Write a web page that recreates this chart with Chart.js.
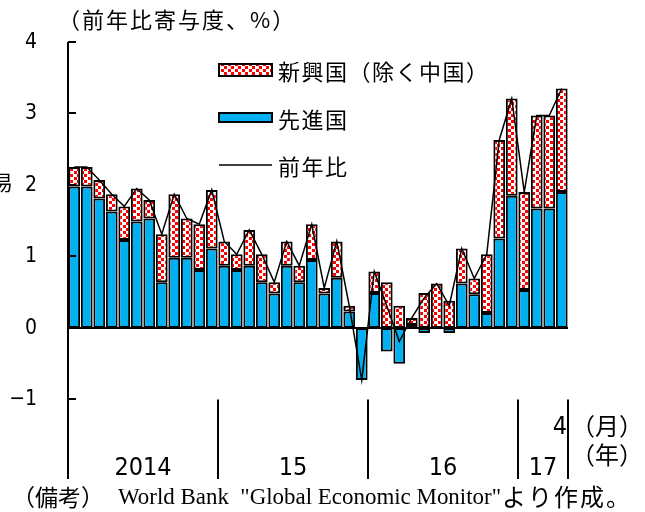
<!DOCTYPE html>
<html>
<head>
<meta charset="utf-8">
<script src="https://cdn.jsdelivr.net/npm/chart.js@4/dist/chart.umd.min.js"></script>
<style>
  html, body { margin: 0; padding: 0; background: #fff; }
  #wrap { width: 645px; height: 512px; position: relative; }
</style>
</head>
<body>
<div id="wrap"><canvas id="c" width="645" height="512"></canvas></div>
<script>
// Monthly categories, Jan 2014 - Apr 2017
const months = [
  '2014/1','2014/2','2014/3','2014/4','2014/5','2014/6','2014/7','2014/8','2014/9','2014/10','2014/11','2014/12',
  '2015/1','2015/2','2015/3','2015/4','2015/5','2015/6','2015/7','2015/8','2015/9','2015/10','2015/11','2015/12',
  '2016/1','2016/2','2016/3','2016/4','2016/5','2016/6','2016/7','2016/8','2016/9','2016/10','2016/11','2016/12',
  '2017/1','2017/2','2017/3','2017/4'
];

// 先進国 contribution (pt)
const advanced = [
  1.98, 1.98, 1.81, 1.63, 1.23, 1.49, 1.53, 0.64, 0.98, 0.98, 0.81, 1.11,
  0.87, 0.81, 0.87, 0.64, 0.48, 0.87, 0.64, 0.95, 0.48, 0.70, 0.23, -0.73,
  0.49, -0.33, -0.50, 0.04, -0.07, 0.00, -0.07, 0.62, 0.47, 0.21, 1.25, 1.85,
  0.53, 1.67, 1.67, 1.90
];

// 新興国（除く中国） contribution (pt)
const emerging = [
  0.27, 0.27, 0.26, 0.24, 0.47, 0.46, 0.26, 0.67, 0.89, 0.55, 0.64, 0.82,
  0.34, 0.22, 0.50, 0.39, 0.16, 0.34, 0.23, 0.50, 0.08, 0.51, 0.08, 0.00,
  0.30, 0.64, 0.31, 0.10, 0.49, 0.62, 0.38, 0.49, 0.22, 0.82, 1.38, 1.36,
  1.37, 1.30, 1.30, 1.45
];

// 前年比 (%)
const yoy = [
  2.25, 2.25, 2.07, 1.87, 1.70, 1.95, 1.79, 1.31, 1.87, 1.53, 1.45, 1.93,
  1.21, 1.03, 1.37, 1.03, 0.64, 1.21, 0.87, 1.45, 0.56, 1.21, 0.31, -0.73,
  0.79, 0.31, -0.19, 0.14, 0.42, 0.62, 0.31, 1.11, 0.69, 1.03, 2.63, 3.21,
  1.90, 2.97, 2.97, 3.35
];

const yTicks = [-1, 0, 1, 2, 3, 4];
const yearLabels = ['2014', '15', '16', '17'];
const yearStartIdx = [0, 12, 24, 36];
const lastMonthLabel = '4';

const BLUE = '#00b0f0';
const RED = '#ff0000';
const JP = '"Noto Sans CJK JP", "Noto Sans", sans-serif';
const NUM = '"Liberation Sans Narrow", "DejaVu Sans Condensed", "Liberation Sans", sans-serif';
const SERIF = '"Liberation Serif", "DejaVu Serif", serif';

// red-dot fill for the emerging-economy bars
function makeDots() {
  const t = document.createElement('canvas');
  t.width = 7; t.height = 6;
  const g = t.getContext('2d');
  g.fillStyle = '#ffffff';
  g.fillRect(0, 0, 7, 6);
  g.fillStyle = RED;
  g.fillRect(0, 0, 3, 3);
  g.fillRect(4, 3, 3, 3);
  return g.createPattern(t, 'repeat');
}
const dots = makeDots();

function spaced(ctx, px) {
  if ('letterSpacing' in ctx) ctx.letterSpacing = px + 'px';
}

const decor = {
  id: 'decor',
  beforeDatasetsDraw(chart) {
    const { ctx, chartArea: a, scales: { y } } = chart;
    ctx.save();
    ctx.strokeStyle = '#000';
    ctx.lineWidth = 2;
    ctx.beginPath();
    ctx.moveTo(a.left, Math.round(y.getPixelForValue(0)));
    ctx.lineTo(a.right, Math.round(y.getPixelForValue(0)));
    ctx.stroke();
    ctx.restore();
  },
  afterDraw(chart) {
    const { ctx, chartArea: a, scales: { x, y } } = chart;
    const bottom = a.bottom + 1;
    const yMinus1 = y.getPixelForValue(-1);
    ctx.save();
    ctx.strokeStyle = '#000';
    ctx.fillStyle = '#000';

    // value axis
    ctx.lineWidth = 2;
    ctx.beginPath();
    ctx.moveTo(a.left, y.getPixelForValue(4));
    ctx.lineTo(a.left, bottom);
    ctx.stroke();
    ctx.font = '21px ' + NUM;
    ctx.textAlign = 'right';
    ctx.textBaseline = 'middle';
    yTicks.forEach(v => {
      const py = Math.round(y.getPixelForValue(v));
      ctx.beginPath();
      ctx.moveTo(a.left, py);
      ctx.lineTo(a.left + 8, py);
      ctx.stroke();
      ctx.fillText(v < 0 ? '\u2212' + Math.abs(v) : String(v), 37, py + 1);
    });

    // year separators
    const step = x.getPixelForValue(1) - x.getPixelForValue(0);
    const edges = yearStartIdx.slice(1).map(i => x.getPixelForValue(i) - step / 2);
    edges.push(x.getPixelForValue(months.length - 1) + step / 2);
    edges.forEach(px => {
      ctx.beginPath();
      ctx.moveTo(Math.round(px), yMinus1);
      ctx.lineTo(Math.round(px), bottom);
      ctx.stroke();
    });

    // year labels centred in each year span
    ctx.font = '25px ' + NUM;
    ctx.textAlign = 'center';
    ctx.textBaseline = 'middle';
    yearStartIdx.forEach((s, k) => {
      const e = k + 1 < yearStartIdx.length ? yearStartIdx[k + 1] - 1 : months.length - 1;
      const cx = (x.getPixelForValue(s) + x.getPixelForValue(e)) / 2;
      ctx.fillText(yearLabels[k], cx, 468);
    });

    // final month marker
    ctx.textAlign = 'right';
    ctx.fillText(lastMonthLabel, edges[edges.length - 1] - 1, 427);

    // unit captions
    ctx.font = '24px ' + JP;
    ctx.textAlign = 'center';
    ctx.fillText('（月）', 607, 426);
    ctx.fillText('（年）', 607, 455);

    // title
    ctx.font = '22px ' + JP;
    ctx.textAlign = 'left';
    spaced(ctx, 2);
    ctx.fillText('（前年比寄与度、%）', 58, 20);

    // clipped side label
    spaced(ctx, 0);
    ctx.font = '21px ' + JP;
    ctx.textAlign = 'right';
    ctx.fillText('易', 13, 182);

    // legend
    const lx = 219, lw = 53;
    ctx.lineWidth = 2;
    ctx.fillStyle = dots;
    ctx.fillRect(lx, 64, lw, 12);
    ctx.strokeRect(lx, 64, lw, 12);
    ctx.fillStyle = BLUE;
    ctx.fillRect(lx, 113, lw, 9);
    ctx.strokeRect(lx, 113, lw, 9);
    ctx.lineWidth = 1.5;
    ctx.beginPath();
    ctx.moveTo(lx, 165);
    ctx.lineTo(lx + lw, 165);
    ctx.stroke();
    ctx.fillStyle = '#000';
    ctx.font = '22px ' + JP;
    ctx.textAlign = 'left';
    spaced(ctx, 1.5);
    ctx.fillText('新興国（除く中国）', 278, 72);
    ctx.fillText('先進国', 278, 120);
    ctx.fillText('前年比', 278, 167);

    // source note
    spaced(ctx, 0);
    ctx.font = '23px ' + JP;
    ctx.fillText('（備考）', 12, 497);
    ctx.font = '23px ' + SERIF;
    ctx.fillText('World Bank  "Global Economic Monitor"', 118, 498, 383);
    ctx.font = '24px ' + JP;
    spaced(ctx, 2);
    ctx.fillText('より作成。', 502, 497);
    ctx.restore();
  }
};

new Chart(document.getElementById('c'), {
  data: {
    labels: months,
    datasets: [
      {
        type: 'line',
        label: '前年比',
        data: yoy,
        stack: 'yoy',
        borderColor: '#000',
        borderWidth: 1.5,
        pointRadius: 0,
        tension: 0,
        fill: false,
        order: 0
      },
      {
        type: 'bar',
        label: '先進国',
        data: advanced,
        stack: 'contrib',
        backgroundColor: BLUE,
        borderColor: '#000',
        borderWidth: 2,
        borderSkipped: false,
        barPercentage: 0.94,
        categoryPercentage: 1.0,
        order: 1
      },
      {
        type: 'bar',
        label: '新興国（除く中国）',
        data: emerging,
        stack: 'contrib',
        backgroundColor: dots,
        borderColor: '#000',
        borderWidth: 2,
        borderSkipped: false,
        barPercentage: 0.94,
        categoryPercentage: 1.0,
        order: 1
      }
    ]
  },
  options: {
    responsive: false,
    devicePixelRatio: 1,
    animation: false,
    layout: { padding: { left: 68, right: 77, top: 42, bottom: 34 } },
    plugins: { legend: { display: false }, tooltip: { enabled: false } },
    scales: {
      x: { display: false, offset: true, stacked: true },
      y: { display: false, stacked: true, min: -2.1, max: 4 }
    }
  },
  plugins: [decor]
});
</script>
</body>
</html>
